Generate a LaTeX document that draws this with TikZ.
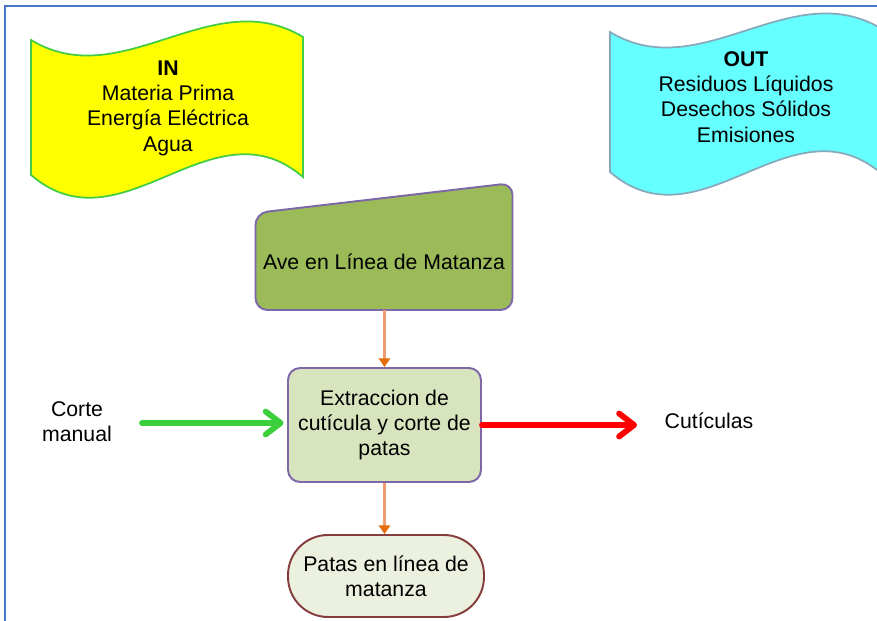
\documentclass[tikz,border=0pt]{standalone}
\usepackage{fontspec}
\setmainfont{Liberation Sans}
\usepackage{tikz}
\usetikzlibrary{arrows.meta,calc,positioning}
\definecolor{inyellow}{HTML}{FFFF00}
\definecolor{ingreen}{HTML}{44CC44}
\definecolor{outcyan}{HTML}{66FFFF}
\definecolor{outedge}{HTML}{86AABB}
\definecolor{aveolive}{HTML}{9BBB59}
\definecolor{boxpurple}{HTML}{7E67A6}
\definecolor{extolive}{HTML}{D7E4BD}
\definecolor{patasfill}{HTML}{EBF1DE}
\definecolor{patasedge}{HTML}{843C3C}
\definecolor{flowline}{HTML}{F09A72}
\definecolor{flowtip}{HTML}{E46C0A}
\definecolor{greenarrow}{HTML}{3CCF3C}
\definecolor{frameblue}{HTML}{4A78C8}
\tikzset{
  txt/.style={font=\fontsize{12.1}{14.4}\selectfont,align=center,inner sep=0pt},
  flow/.style={flowline,line width=1.5pt,-{Triangle[length=5pt,width=6.5pt,color=flowtip]}},
  fat/.style={line width=3.3pt,line cap=round,-{Straight Barb[length=0.3cm,width=0.46cm,round]}},
}

\begin{document}
\begin{tikzpicture}[x=0.02cm,y=-0.02cm,>=Latex]
  \clip (0,0) rectangle (877,621);
  % frame of the page
  \draw[frameblue,line width=1.1pt] (4,6) -- (877,6);
  \draw[frameblue,line width=1.1pt] (5,6) -- (5,621);
  % input and output documents
  \draw[ingreen,line width=1pt,fill=inyellow]
    (31,40) .. controls (122,95) and (212,-18) .. (303,37)
    -- (303,177) .. controls (212,99) and (122,253) .. (31,175) -- cycle;
  \node[txt] (in) at (168,108) {\textbf{IN}\\Materia Prima\\Energía Eléctrica\\Agua};
  \draw[outedge,line width=1pt,fill=outcyan]
    (610,32) .. controls (701,87) and (791,-26) .. (882,29)
    -- (882,174) .. controls (791,96) and (701,250) .. (610,172) -- cycle;
  \node[txt] (out) at (746,97) {\textbf{OUT}\\Residuos Líquidos\\Desechos Sólidos\\Emisiones};
  % process
  \draw[boxpurple,line width=1.1pt,fill=aveolive,rounded corners=0.24cm]
    (255.5,310) -- (255.5,213) -- (512.5,183) -- (512.5,310) -- cycle;
  \node[txt,minimum width=5.14cm,minimum height=1.92cm] (ave) at (384,262) {Ave en Línea de Matanza};
  \node[txt,draw=boxpurple,line width=1.1pt,fill=extolive,rounded corners=0.24cm,
    minimum width=3.86cm,minimum height=2.28cm] (ext) at (384.5,425)
    {Extraccion de\\cutícula y corte de\\patas};
  \node[txt,draw=patasedge,line width=1.1pt,fill=patasfill,rounded corners=0.8cm,
    minimum width=3.92cm,minimum height=1.64cm] (patas) at (386,576)
    {Patas en línea de\\matanza};
  \node[txt] (corte) at (77,422) {Corte\\manual};
  \node[txt] (cut) at (709,421) {Cutículas};
  \coordinate (gin) at (142,423);
  \coordinate (rout) at (637,425);
  \draw[flow] (ave.south -| ext.north) -- (ext.north);
  \draw[flow] (ext.south) -- (ext.south |- patas.north);
  \draw[fat,greenarrow] (gin) -- ([xshift=-2pt]gin -| ext.west);
  \draw[fat,red] (rout -| ext.east) -- (rout);
\end{tikzpicture}
\end{document}
